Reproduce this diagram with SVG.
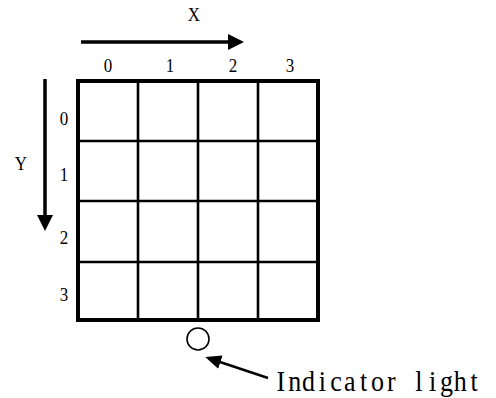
<svg xmlns="http://www.w3.org/2000/svg" width="496" height="398" viewBox="0 0 496 398">
<style>
.t{font-family:"Liberation Serif","Times New Roman",serif;font-size:17px;fill:#000;text-anchor:middle}
.big{font-size:26px}
.cell{stroke:#000;stroke-width:2.6;fill:none}
</style>
<defs>
<marker id="ah" markerUnits="userSpaceOnUse" markerWidth="16" markerHeight="16" refX="2" refY="8" orient="auto"><path d="M0,0 L16,8 L0,16 z" fill="#000"/></marker>
<marker id="ahs" markerUnits="userSpaceOnUse" markerWidth="16" markerHeight="14" refX="2" refY="7" orient="auto"><path d="M0,0 L16,7 L0,14 z" fill="#000"/></marker>
</defs>
<rect width="496" height="398" fill="#fff"/>
<g id="connectors">
<line x1="81" y1="42" x2="230" y2="42" stroke="#000" stroke-width="3.5" marker-end="url(#ah)"/>
<line x1="45" y1="79" x2="45" y2="217" stroke="#000" stroke-width="3.5" marker-end="url(#ah)"/>
<line x1="268" y1="378" x2="218.5" y2="361.5" stroke="#000" stroke-width="2.5" marker-end="url(#ahs)"/>
</g>
<g id="grid">
<rect x="78" y="81" width="240" height="239" stroke="#000" stroke-width="4" fill="none"/>
<line class="cell" x1="138" y1="81" x2="138" y2="320"/>
<line class="cell" x1="198" y1="81" x2="198" y2="320"/>
<line class="cell" x1="258" y1="81" x2="258" y2="320"/>
<line class="cell" x1="78" y1="141" x2="318" y2="141"/>
<line class="cell" x1="78" y1="201" x2="318" y2="201"/>
<line class="cell" x1="78" y1="262" x2="318" y2="262"/>
</g>
<g id="x-label"><text class="t" transform="translate(194,21) scale(1,1.05)">X</text></g>
<g id="y-label"><text class="t" transform="translate(21,170) scale(1,1.05)">Y</text></g>
<g id="col-labels">
<text class="t" transform="translate(108,72) scale(1,1.05)">0</text>
<text class="t" transform="translate(170,72) scale(1,1.05)">1</text>
<text class="t" transform="translate(233,72) scale(1,1.05)">2</text>
<text class="t" transform="translate(290,72) scale(1,1.05)">3</text>
</g>
<g id="row-labels">
<text class="t" transform="translate(64,125) scale(1,1.05)">0</text>
<text class="t" transform="translate(64,181) scale(1,1.05)">1</text>
<text class="t" transform="translate(64,244) scale(1,1.05)">2</text>
<text class="t" transform="translate(64,301) scale(1,1.05)">3</text>
</g>
<g id="indicator-light"><circle cx="198" cy="339" r="11" stroke="#000" stroke-width="1.6" fill="none"/></g>
<g id="indicator-label"><text class="t big" transform="translate(274,391) scale(1,1.1)" x="6.9 20.7 34.5 48.3 62.1 75.9 89.7 103.5 117.3 131.1 144.9 158.7 172.5 186.3 200.1" y="0">Indicator light</text></g>
</svg>
